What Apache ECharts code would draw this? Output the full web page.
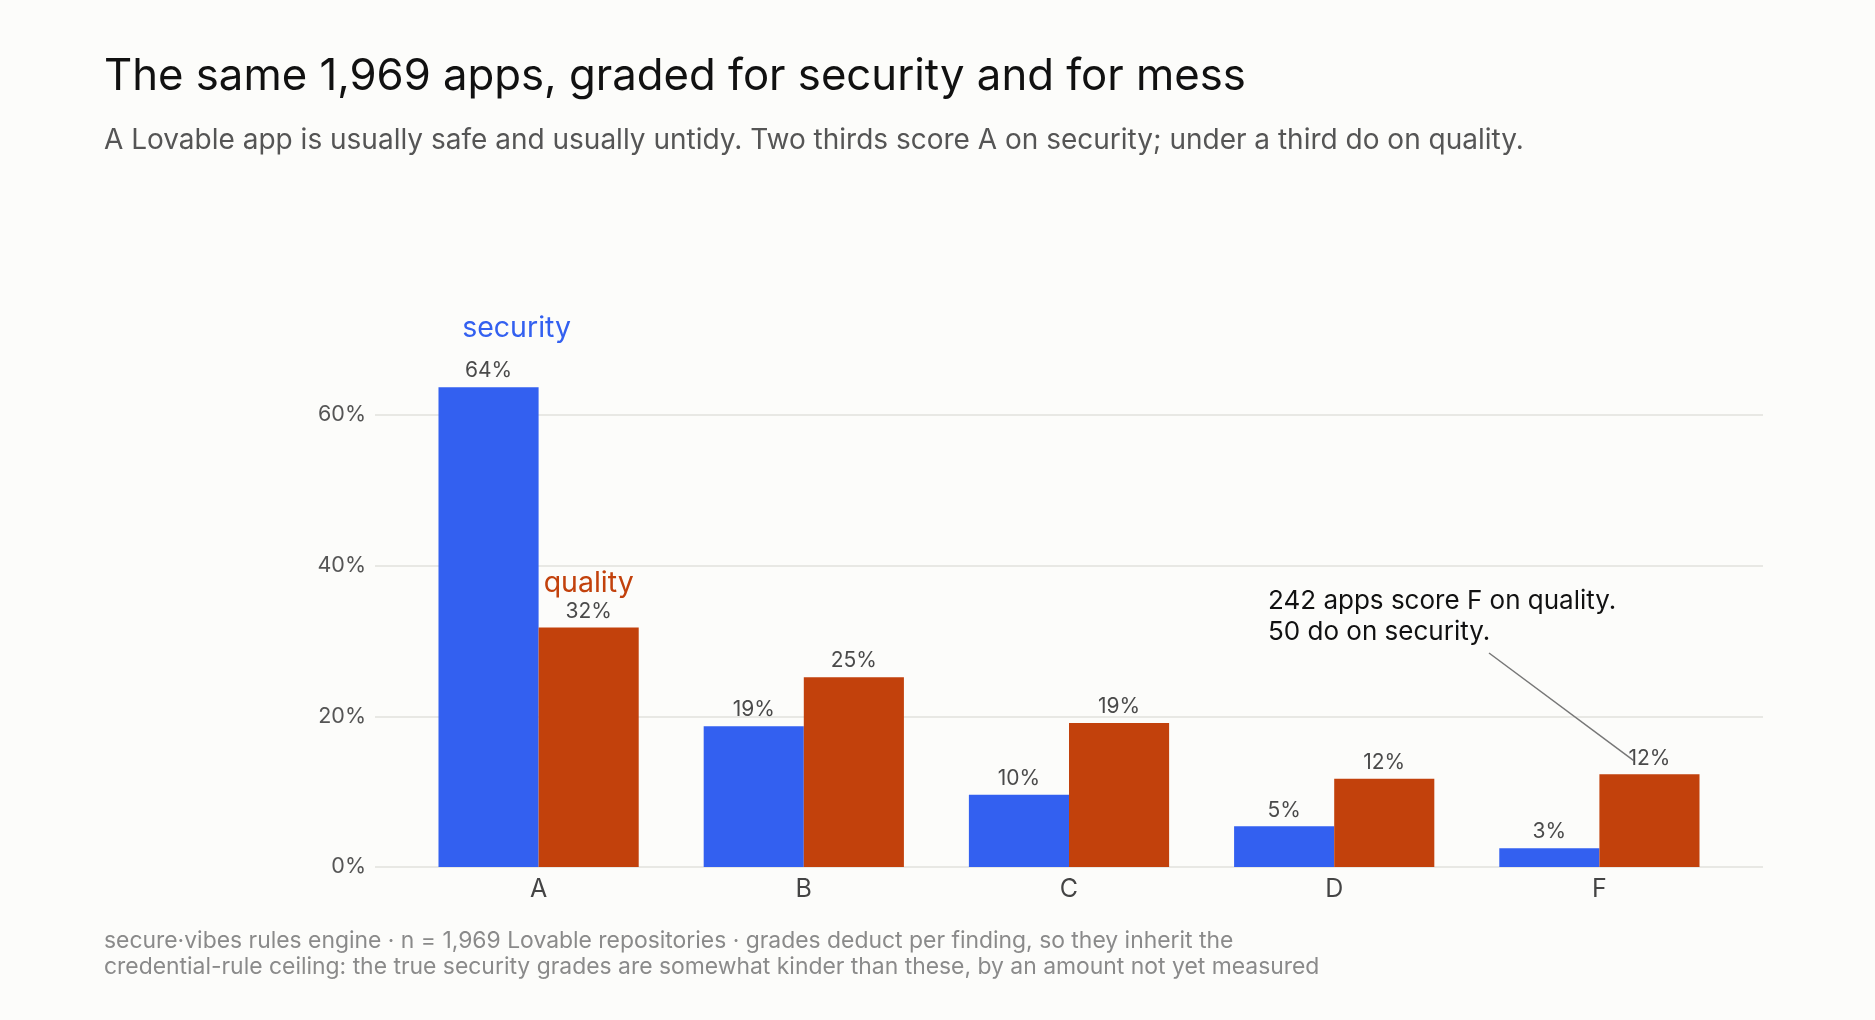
<!DOCTYPE html>
<html>
<head>
<meta charset="utf-8">
<script src="https://cdn.jsdelivr.net/npm/echarts@6/dist/echarts.min.js"></script>
<style>
  html, body { margin: 0; padding: 0; background: #fcfcfa; }
  #chart { width: 1875px; height: 1020px; }
</style>
</head>
<body>
<div id="chart"></div>
<script>
// grades and share of apps (percent) per grade
var grades = ['A', 'B', 'C', 'D', 'F'];
var security = [63.7, 18.7, 9.6, 5.4, 2.5];
var quality = [31.8, 25.2, 19.1, 11.7, 12.3];
var yTicks = [0, 20, 40, 60];

var BLUE = '#3360f0';
var RED = '#c2410c';
var FONT = 'Inter';

var chart = echarts.init(document.getElementById('chart'));

// value label, with the series name stacked above it on the first bar
function barLabel(key) {
  return function (p) {
    var v = '{val|' + Math.round(p.value) + '%}';
    return p.dataIndex === 0 ? '{' + key + '|' + p.seriesName + '}\n' + v : v;
  };
}

var option = {
  backgroundColor: '#fcfcfa',
  textStyle: { fontFamily: FONT },
  title: [
    {
      text: 'The same 1,969 apps, graded for security and for mess',
      left: 99, top: 50,
      textStyle: { fontFamily: FONT, fontSize: 43.7, fontWeight: 'normal', color: '#111' }
    },
    {
      text: 'A Lovable app is usually safe and usually untidy. Two thirds score A on security; under a third do on quality.',
      left: 99, top: 122,
      textStyle: { fontFamily: FONT, fontSize: 28, fontWeight: 'normal', color: '#555' }
    },
    {
      text: 'secure\u00b7vibes rules engine \u00b7 n = 1,969 Lovable repositories \u00b7 grades deduct per finding, so they inherit the\ncredential-rule ceiling: the true security grades are somewhat kinder than these, by an amount not yet measured',
      left: 99, top: 923,
      textStyle: { fontFamily: FONT, fontSize: 22.9, fontWeight: 'normal', color: '#8a8a8a', lineHeight: 26 }
    }
  ],
  grid: [
    // gridlines + y labels span a bit wider than the bars
    { left: 375, right: 112, top: 415, bottom: 153 },
    { left: 406, right: 143, top: 415, bottom: 153 }
  ],
  xAxis: [
    { type: 'value', gridIndex: 0, show: false },
    {
      type: 'category', gridIndex: 1, data: grades,
      axisLine: { show: false }, axisTick: { show: false },
      axisLabel: { fontFamily: FONT, fontSize: 25, color: '#444', margin: 10 }
    }
  ],
  yAxis: [
    {
      type: 'value', gridIndex: 0,
      min: yTicks[0], max: yTicks[yTicks.length - 1], interval: yTicks[1] - yTicks[0],
      axisLine: { show: false }, axisTick: { show: false },
      axisLabel: { formatter: '{value}%', fontFamily: FONT, fontSize: 21.5, color: '#555', margin: 9 },
      splitLine: { lineStyle: { color: '#e2e2dd', width: 1.5 } }
    },
    {
      type: 'value', gridIndex: 1, show: false,
      min: yTicks[0], max: yTicks[yTicks.length - 1], splitLine: { show: false }
    }
  ],
  series: [
    {
      name: 'security', type: 'bar', xAxisIndex: 1, yAxisIndex: 1,
      data: security, clip: false,
      barGap: 0, barCategoryGap: '24.5%',
      itemStyle: { color: BLUE },
      label: {
        show: true, position: 'top', distance: 4,
        formatter: barLabel('sec'),
        rich: {
          sec: { color: BLUE, fontFamily: FONT, fontSize: 28.5, lineHeight: 62, padding: [0, 0, 0, 56] },
          val: { color: '#4a4a4a', fontFamily: FONT, fontSize: 21, lineHeight: 24 }
        }
      }
    },
    {
      name: 'quality', type: 'bar', xAxisIndex: 1, yAxisIndex: 1,
      data: quality, clip: false,
      barGap: 0, barCategoryGap: '24.5%',
      itemStyle: { color: RED },
      label: {
        show: true, position: 'top', distance: 4,
        formatter: barLabel('qua'),
        rich: {
          qua: { color: RED, fontFamily: FONT, fontSize: 28.5, lineHeight: 32 },
          val: { color: '#4a4a4a', fontFamily: FONT, fontSize: 21, lineHeight: 24 }
        }
      }
    }
  ]
};

chart.setOption(option);

// annotation for grade F, leader line ends at the quality label
var fTop = chart.convertToPixel({ gridIndex: 1 }, ['F', quality[4]]);
chart.setOption({
  graphic: [
    {
      type: 'text', left: 1268, top: 586,
      style: {
        text: '242 apps score F on quality.\n50 do on security.',
        fill: '#111', fontFamily: FONT, fontSize: 26, lineHeight: 31
      }
    },
    {
      type: 'line',
      shape: { x1: 1489, y1: 653, x2: fTop[0] + 34, y2: fTop[1] - 14 },
      style: { stroke: '#777', lineWidth: 1.5 }
    }
  ]
});
</script>
</body>
</html>
